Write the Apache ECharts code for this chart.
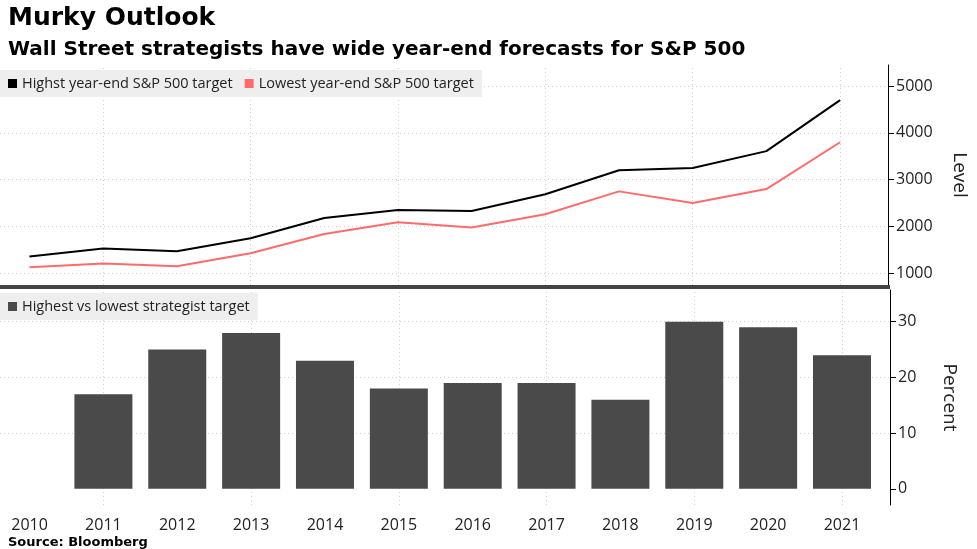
<!DOCTYPE html>
<html>
<head>
<meta charset="utf-8">
<script src="https://cdn.jsdelivr.net/npm/echarts@6/dist/echarts.min.js"></script>
<style>
  html, body { margin: 0; padding: 0; background: #fff; }
  #chart { width: 977px; height: 549px; }
</style>
</head>
<body>
<div id="chart"></div>
<script>
var years = [2010, 2011, 2012, 2013, 2014, 2015, 2016, 2017, 2018, 2019, 2020, 2021];
var highTarget = [1360, 1530, 1470, 1750, 2180, 2350, 2330, 2690, 3200, 3250, 3610, 4700];
var lowTarget = [1130, 1210, 1150, 1430, 1840, 2090, 1980, 2260, 2750, 2500, 2800, 3800];
var barYears = [2011, 2012, 2013, 2014, 2015, 2016, 2017, 2018, 2019, 2020, 2021];
var spread = [17, 25, 28, 23, 18, 19, 19, 16, 30, 29, 24];
var levelTicks = [1000, 2000, 3000, 4000, 5000];
var percentTicks = [0, 10, 20, 30];
var gridYears = [2011, 2013, 2015, 2017, 2019, 2021];

function pairs(xs, ys) {
	var out = [];
	for (var i = 0; i < xs.length; i++) {
		out.push([xs[i], ys[i]]);
	}
	return out;
}
function plain(v) { return String(v); }

var font = '"Open Sans", sans-serif';
var titleFont = '"DejaVu Sans", sans-serif';
var myChart = echarts.init(document.getElementById('chart'));

var dotted = { color: '#d0d0d0', width: 1, type: [1, 3] };

function xAxisFor(idx, showLabel) {
	return {
		gridIndex: idx, type: 'value',
		min: 2009.6, max: 2021.65,
		axisLine: { show: false },
		axisTick: { show: false },
		axisLabel: { show: showLabel, fontSize: 16, color: '#222', margin: 12,
			customValues: years, formatter: plain },
		splitLine: { show: false }
	};
}
function gridLines(xi, yi, ys) {
	return {
		type: 'line', xAxisIndex: xi, yAxisIndex: yi, data: [], silent: true, z: 0,
		markLine: {
			silent: true, symbol: 'none', label: { show: false }, lineStyle: dotted, z: 0,
			data: ys.map(function (v) { return { yAxis: v }; })
				.concat(gridYears.map(function (v) { return { xAxis: v }; }))
		}
	};
}

var option = {
	animation: false,
	textStyle: { fontFamily: font },
	title: [{
		text: 'Murky Outlook',
		left: 3, top: 1,
		textStyle: { fontSize: 25, fontWeight: 'bold', color: '#000', fontFamily: titleFont }
	}, {
		text: 'Wall Street strategists have wide year-end forecasts for S&P 500',
		left: 3, top: 35,
		textStyle: { fontSize: 20, fontWeight: 'bold', color: '#000', fontFamily: titleFont }
	}, {
		text: 'Source: Bloomberg',
		left: 3, top: 531,
		textStyle: { fontSize: 13, fontWeight: 'bold', color: '#000', fontFamily: titleFont }
	}],
	legend: [{
		data: ['Highst year-end S&P 500 target', 'Lowest year-end S&P 500 target'],
		left: 0, top: 70,
		icon: 'rect', itemWidth: 9, itemHeight: 9, itemGap: 12,
		backgroundColor: '#eeeeee', padding: [6, 8, 6, 8],
		textStyle: { fontSize: 14.5, color: '#222', fontFamily: font }
	}, {
		data: ['Highest vs lowest strategist target'],
		left: 0, top: 293,
		icon: 'rect', itemWidth: 9, itemHeight: 9,
		backgroundColor: '#eeeeee', padding: [6, 8, 6, 8],
		textStyle: { fontSize: 14.5, color: '#222', fontFamily: font }
	}],
	grid: [
		{ left: 0, right: 87, top: 65, height: 220 },
		{ left: 0, right: 87, top: 290, height: 215 }
	],
	xAxis: [xAxisFor(0, false), xAxisFor(1, true)],
	yAxis: [{
		gridIndex: 0, type: 'value', position: 'right',
		min: 750, max: 5450,
		axisLine: { show: true, lineStyle: { color: '#000', width: 1 } },
		axisTick: { show: true, length: 6, lineStyle: { color: '#000' }, customValues: levelTicks },
		axisLabel: { fontSize: 16, color: '#222', margin: 8, customValues: levelTicks, formatter: plain },
		splitLine: { show: false },
		name: 'Level', nameLocation: 'middle', nameRotate: -90, nameGap: 62,
		nameTextStyle: { fontSize: 19, color: '#222' }
	}, {
		gridIndex: 1, type: 'value', position: 'right',
		min: -2.9, max: 35.7,
		axisLine: { show: true, lineStyle: { color: '#000', width: 1 } },
		axisTick: { show: true, length: 6, lineStyle: { color: '#000' }, customValues: percentTicks },
		axisLabel: { fontSize: 16, color: '#222', margin: 8, customValues: percentTicks, formatter: plain },
		splitLine: { show: false },
		name: 'Percent', nameLocation: 'middle', nameRotate: -90, nameGap: 50,
		nameTextStyle: { fontSize: 19, color: '#222' }
	}],
	graphic: [{
		type: 'rect', shape: { x: 0, y: 285, width: 890, height: 4 },
		style: { fill: '#444' }, z: 100
	}],
	series: [gridLines(0, 0, levelTicks), gridLines(1, 1, [10, 20, 30]), {
		name: 'Highst year-end S&P 500 target', type: 'line',
		xAxisIndex: 0, yAxisIndex: 0, z: 5,
		data: pairs(years, highTarget),
		showSymbol: false, itemStyle: { color: '#000' },
		lineStyle: { color: '#000', width: 2 }
	}, {
		name: 'Lowest year-end S&P 500 target', type: 'line',
		xAxisIndex: 0, yAxisIndex: 0, z: 5,
		data: pairs(years, lowTarget),
		showSymbol: false, itemStyle: { color: '#ff6b6b' },
		lineStyle: { color: '#ff6b6b', width: 2 }
	}, {
		name: 'Highest vs lowest strategist target', type: 'bar',
		xAxisIndex: 1, yAxisIndex: 1, z: 5,
		data: pairs(barYears, spread),
		barWidth: 58, itemStyle: { color: '#4a4a4a' }
	}]
};
myChart.setOption(option);
</script>
</body>
</html>
